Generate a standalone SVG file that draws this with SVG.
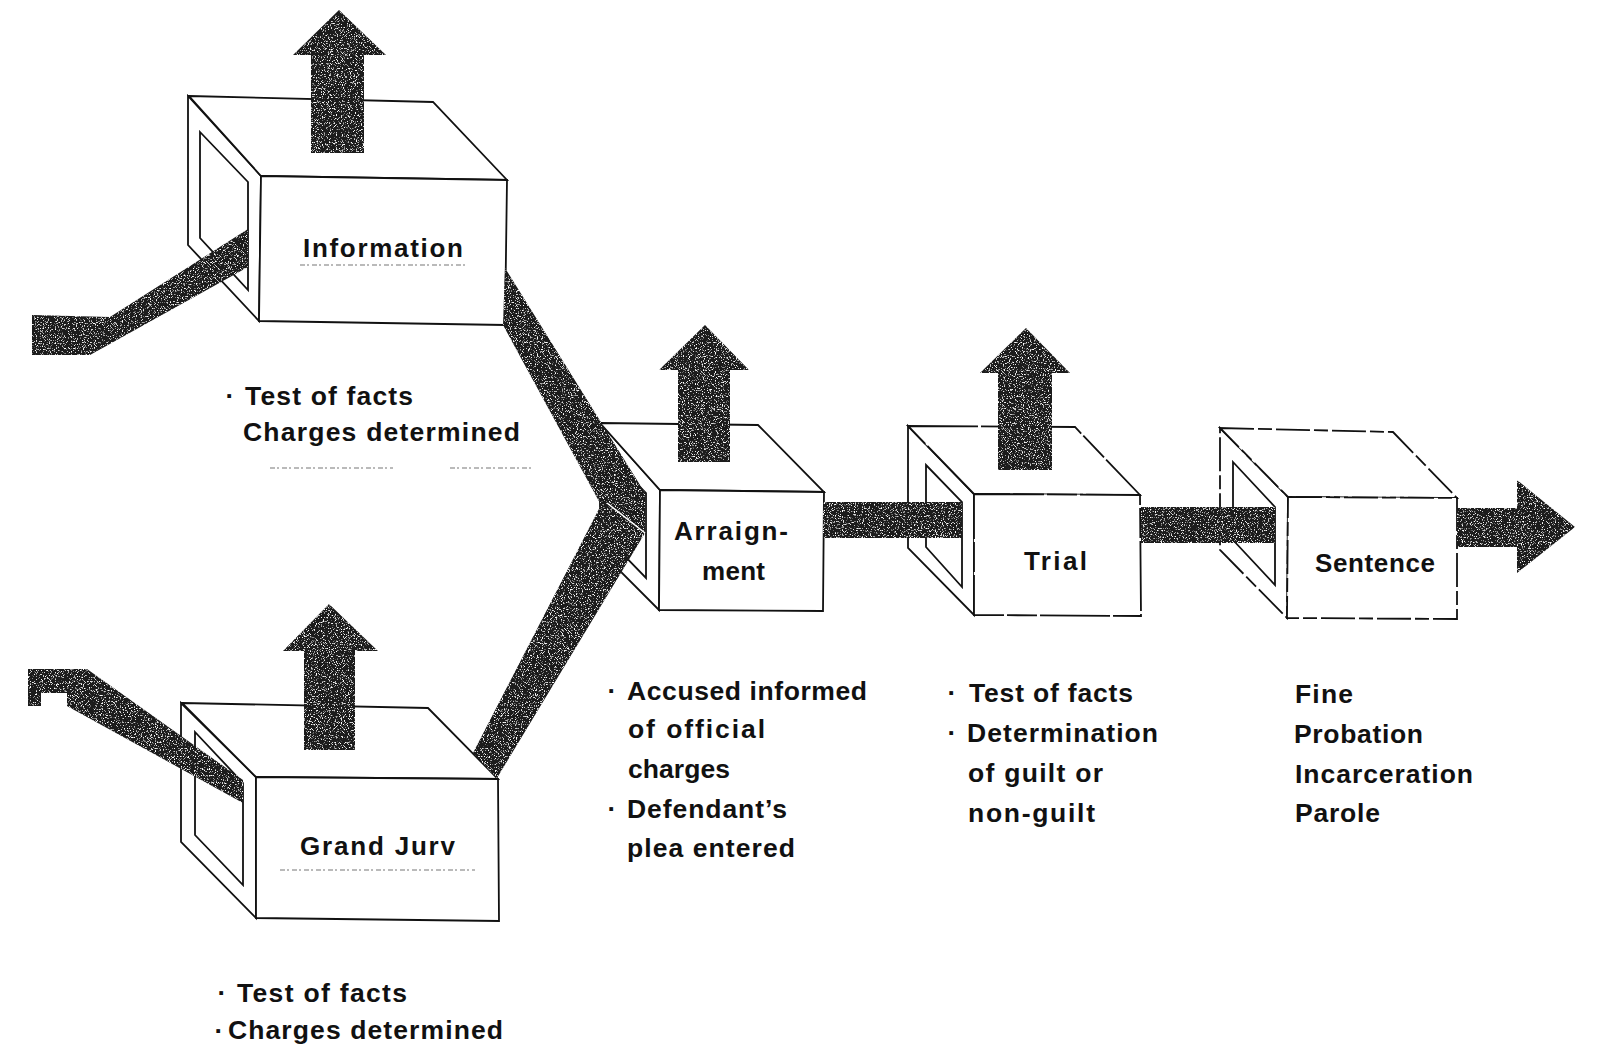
<svg xmlns="http://www.w3.org/2000/svg" width="1598" height="1051" viewBox="0 0 1598 1051">
<defs>
<style>
.box{fill:#fff;stroke:#111;stroke-width:1.8;stroke-linejoin:miter}
.d1{stroke-dasharray:70 3 30 3}
.d2{stroke-dasharray:34 4 14 4}
.bar{fill:#1c1c1c}
.lbl{font-family:"Liberation Sans",Arial,sans-serif;font-weight:700;font-size:26px;fill:#111}
.txt{font-family:"Liberation Sans",Arial,sans-serif;font-weight:700;font-size:26.5px;fill:#111}
.ul{stroke:#777;stroke-width:1.2;stroke-dasharray:5 2 2 3;fill:none}
</style>
<filter id="grain" x="0" y="0" width="1" height="1">
<feTurbulence type="fractalNoise" baseFrequency="0.85" numOctaves="2" seed="7" result="noise"/>
<feColorMatrix in="noise" type="matrix" values="0 0 0 0 1 0 0 0 0 1 0 0 0 0 1 6 0 0 0 -3.45" result="spots"/>
<feComposite in="spots" in2="SourceAlpha" operator="in" result="clip"/>
<feMerge><feMergeNode in="SourceGraphic"/><feMergeNode in="clip"/></feMerge>
</filter>
</defs>
<rect width="1598" height="1051" fill="#fff"/>

<g id="node-information">
<polygon class="box" points="188,96 261,176 259,321 188,245"/>
<polygon class="box" points="200,132 248,182 248,290 200,238"/>
<polygon class="box" points="189,96 433,102 507,180 261,176"/>
<polygon class="box" points="261,176 507,180 505,325 259,321"/>
<text class="lbl" x="303" y="257" textLength="160" lengthAdjust="spacing">Information</text>
<line class="ul" x1="300" y1="265" x2="467" y2="265"/>
<text class="txt" x="230" y="405" text-anchor="middle">·</text>
<text class="txt" x="245" y="405" textLength="168" lengthAdjust="spacing">Test of facts</text>
<text class="txt" x="243" y="441" textLength="277" lengthAdjust="spacing">Charges determined</text>
<line class="ul" x1="270" y1="468" x2="393" y2="468"/>
<line class="ul" x1="450" y1="468" x2="533" y2="468"/>
</g>

<g id="node-grand-jury">
<polygon class="box" points="181,703 256,777 256,918 181,842"/>
<polygon class="box" points="195,732 243,783 243,885 195,835"/>
<polygon class="box" points="182,703 428,708 498,779 256,777"/>
<polygon class="box" points="256,777 498,779 499,921 256,918"/>
<text class="lbl" x="300" y="855" textLength="155" lengthAdjust="spacing">Grand Jurv</text>
<line class="ul" x1="280" y1="870" x2="475" y2="870"/>
<text class="txt" x="222" y="1002" text-anchor="middle">·</text>
<text class="txt" x="237" y="1002" textLength="170" lengthAdjust="spacing">Test of facts</text>
<text class="txt" x="219" y="1040" text-anchor="middle">·</text>
<text class="txt" x="228" y="1039" textLength="275" lengthAdjust="spacing">Charges determined</text>
</g>

<g id="node-arraignment">
<polygon class="box" points="600,423 660,490 659,610 600,551"/>
<polygon class="box" points="612,458 646,493 646,578 612,543"/>
<polygon class="box" points="600,423 758,425 824,492 660,490"/>
<polygon class="box" points="660,490 824,492 823,611 659,610"/>
<text class="lbl" x="674" y="540" textLength="114" lengthAdjust="spacing">Arraign-</text>
<text class="lbl" x="702" y="580" textLength="63" lengthAdjust="spacing">ment</text>
<text class="txt" x="612" y="700" text-anchor="middle">·</text>
<text class="txt" x="627" y="700" textLength="240" lengthAdjust="spacing">Accused informed</text>
<text class="txt" x="628" y="738" textLength="137" lengthAdjust="spacing">of official</text>
<text class="txt" x="628" y="778" textLength="102" lengthAdjust="spacing">charges</text>
<text class="txt" x="612" y="818" text-anchor="middle">·</text>
<text class="txt" x="627" y="818" textLength="160" lengthAdjust="spacing">Defendant’s</text>
<text class="txt" x="627" y="857" textLength="168" lengthAdjust="spacing">plea entered</text>
</g>

<g id="node-trial">
<polygon class="box" points="908,426 974,494 974,615 908,548"/>
<polygon class="box" points="926,465 962,502 962,587 926,547"/>
<polygon class="box d1" points="908,426 1075,427 1140,495 974,494"/>
<polygon class="box d1" points="974,494 1140,495 1141,616 974,615"/>
<text class="lbl" x="1024" y="570" textLength="63" lengthAdjust="spacing">Trial</text>
<text class="txt" x="952" y="702" text-anchor="middle">·</text>
<text class="txt" x="969" y="702" textLength="164" lengthAdjust="spacing">Test of facts</text>
<text class="txt" x="952" y="742" text-anchor="middle">·</text>
<text class="txt" x="967" y="742" textLength="191" lengthAdjust="spacing">Determination</text>
<text class="txt" x="968" y="782" textLength="135" lengthAdjust="spacing">of guilt or</text>
<text class="txt" x="968" y="822" textLength="127" lengthAdjust="spacing">non-guilt</text>
</g>

<g id="node-sentence">
<polygon class="box d2" points="1220,428 1288,497 1287,618 1220,550"/>
<polygon class="box" points="1233,462 1275,507 1275,585 1233,540"/>
<polygon class="box d2" points="1220,428 1393,432 1457,498 1288,497"/>
<polygon class="box d2" points="1288,497 1457,498 1457,619 1287,618"/>
<text class="lbl" x="1315" y="572" textLength="120" lengthAdjust="spacing">Sentence</text>
<text class="txt" x="1295" y="703" textLength="58" lengthAdjust="spacing">Fine</text>
<text class="txt" x="1294" y="743" textLength="129" lengthAdjust="spacing">Probation</text>
<text class="txt" x="1295" y="783" textLength="178" lengthAdjust="spacing">Incarceration</text>
<text class="txt" x="1295" y="822" textLength="85" lengthAdjust="spacing">Parole</text>
</g>

<g id="connectors" filter="url(#grain)">
<polygon class="bar" points="32,315 110,317 248,229 248,267 90,355 32,355"/>
<polygon class="bar" points="28,669 87,669 243,780 243,803 67,706 67,693 41,693 41,706 28,706"/>
<polygon class="bar" points="505,268 645,493 645,533 497,778 473,753 601,505 503,325"/>
<line x1="607" y1="503" x2="645" y2="533" stroke="#fff" stroke-width="1.5"/>
<rect class="bar" x="823" y="502" width="139" height="36"/>
<rect class="bar" x="1141" y="507" width="134" height="36"/>
<polygon class="bar" points="1457,508 1517,508 1517,480 1575,527 1517,573 1517,547 1457,547"/>
<polygon class="bar" points="311,153 311,55 293,55 339,10 386,55 364,55 364,153"/>
<polygon class="bar" points="304,750 304,651 283,651 329,604 378,651 355,651 355,750"/>
<polygon class="bar" points="678,462 678,370 659,370 705,325 749,370 730,370 730,462"/>
<polygon class="bar" points="998,470 998,373 980,373 1026,328 1070,373 1052,373 1052,470"/>
</g>
</svg>
